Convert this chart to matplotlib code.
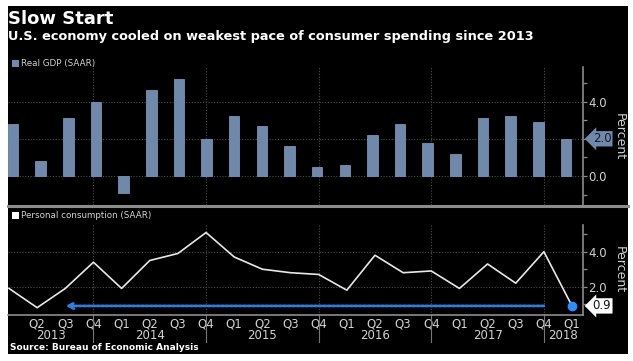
import numpy as np
import matplotlib
matplotlib.use('Agg')
import matplotlib.pyplot as plt
from matplotlib import transforms
from matplotlib.patches import Rectangle
from matplotlib.lines import Line2D

# ---------------- data ----------------
quarters = ['Q1', 'Q2', 'Q3', 'Q4'] * 5 + ['Q1']
years = ['2013', '2014', '2015', '2016', '2017', '2018']
gdp = [2.8, 0.8, 3.1, 4.0, -0.9, 4.6, 5.2, 2.0, 3.2, 2.7, 1.6,
       0.5, 0.6, 2.2, 2.8, 1.8, 1.2, 3.1, 3.2, 2.9, 2.0]
consumption = [1.9, 0.8, 1.9, 3.4, 1.9, 3.5, 3.9, 5.1, 3.7, 3.0, 2.8,
               2.7, 1.8, 3.8, 2.8, 2.9, 1.9, 3.3, 2.2, 4.0, 0.9]
gdp_label = 'Real GDP (SAAR)'
cons_label = 'Personal consumption (SAAR)'
arrow_from, arrow_to = 19, 2   # Q4 2017 back to Q3 2013

# ---------------- style ----------------
W, H = 633, 361
BAR = '#6f89ad'
TXT = '#d2d2d2'
GRID = '#4d4d4d'
SPINE = '#8c8c8c'
BLUE = '#2a7fe0'
TICKFONT = ['Liberation Sans Narrow', 'DejaVu Sans']

fig = plt.figure(figsize=(W / 100, H / 100), dpi=100, facecolor='white')
fig.patches.append(Rectangle((8 / W, 1 - 354 / H), 620 / W, 348 / H,
                             transform=fig.transFigure, fc='black', ec='none', zorder=-10))

ax1 = fig.add_axes([8 / W, 1 - 205 / H, 575 / W, 138 / H])
ax2 = fig.add_axes([8 / W, 1 - 315 / H, 575 / W, 90 / H])
for ax in (ax1, ax2):
    ax.set_facecolor('none')
    for s in ('left', 'top', 'bottom'):
        ax.spines[s].set_visible(False)
    ax.spines['right'].set_color(SPINE)
    ax.spines['right'].set_linewidth(1.2)
    ax.yaxis.tick_right()
    ax.tick_params(axis='y', which='both', colors=SPINE, labelcolor=TXT,
                   length=3, width=0.9, labelsize=8.5, pad=1)

x = np.arange(len(gdp))

# ---------------- top: GDP bars ----------------
ax1.bar(x, gdp, width=0.38, color=BAR, edgecolor='#88a0c0', linewidth=0.5, zorder=3)
ax1.set_xlim(-0.181, 20.615)
ax1.set_ylim(-1.56, 5.86)
ax1.set_xticks([])
ax1.set_yticks([0, 2, 4])
ax1.set_yticklabels(['0.0', '', '4.0'], family=TICKFONT)
ax1.set_yticks([-1, 1, 3, 5], minor=True)
for v in (0, 2, 4):
    ax1.axhline(v, color=GRID, ls=(0, (1, 1.5)), lw=0.8, zorder=1)

# ---------------- bottom: consumption line ----------------
ax2.set_xlim(-0.0355, 20.39)
ax2.set_ylim(0.38, 5.53)
ax2.plot(x, consumption, color='#e8e8e8', lw=1.2, zorder=4)
ax2.plot(x[-1], consumption[-1], 'o', color='#2b8fff', ms=6, zorder=5, clip_on=False)
ax2.annotate('', xy=(x[arrow_to], consumption[-1]), xytext=(x[arrow_from], consumption[-1]),
             arrowprops=dict(arrowstyle='->', color=BLUE, lw=2.0, linestyle=(0, (1, 0.6)),
                             shrinkA=0, shrinkB=0), zorder=4)
ax2.set_yticks([2, 4])
ax2.set_yticklabels(['2.0', '4.0'], family=TICKFONT)
ax2.set_yticks([1, 3, 5], minor=True)
for v in (2, 4):
    ax2.axhline(v, color=GRID, ls=(0, (1, 1.5)), lw=0.8, zorder=1)
ax2.spines['bottom'].set_visible(True)
ax2.spines['bottom'].set_color(SPINE)
ax2.spines['bottom'].set_linewidth(1.2)
ax2.set_xticks(x[1:])
ax2.set_xticklabels(quarters[1:], family=TICKFONT)
ax2.tick_params(axis='x', length=0, labelcolor=TXT, labelsize=8.5, pad=1.5)

# year boundaries, gridlines and labels
q4 = [i for i, q in enumerate(quarters) if q == 'Q4']
bt2 = transforms.blended_transform_factory(ax2.transData, ax2.transAxes)
bt1 = transforms.blended_transform_factory(ax2.transData, ax1.transAxes)
for g in q4:
    ax2.axvline(g, color=GRID, ls=(0, (1, 1.5)), lw=0.8, zorder=1)
    ax1.add_line(Line2D([g, g], [0, 1], transform=bt1, color=GRID,
                        ls=(0, (1, 1.5)), lw=0.8, zorder=1))
    ax2.add_line(Line2D([g, g], [0, -0.3], transform=bt2, color='#777777',
                        lw=0.8, clip_on=False))
bounds = [ax2.get_xlim()[0]] + q4 + [ax2.get_xlim()[1]]
for i, yr in enumerate(years):
    ax2.text((bounds[i] + bounds[i + 1]) / 2, -0.225, yr, transform=bt2,
             ha='center', va='center', fontsize=8.5, color=TXT, family=TICKFONT)

# last-value boxes
ax1.annotate(f'{gdp[-1]:.1f}', xy=(1, gdp[-1]), xycoords=('axes fraction', 'data'),
             xytext=(7, 0), textcoords='offset points', ha='left', va='center',
             fontsize=8.5, color='#1a1a1a', family=TICKFONT,
             bbox=dict(boxstyle='larrow,pad=0.1', fc=BAR, ec='none'))
ax2.annotate(f'{consumption[-1]:.1f}', xy=(1, consumption[-1]), xycoords=('axes fraction', 'data'),
             xytext=(7, 0), textcoords='offset points', ha='left', va='center',
             fontsize=8.5, color='#111111', family=TICKFONT,
             bbox=dict(boxstyle='larrow,pad=0.1', fc='white', ec='none'))

# axis titles
fig.text(619 / W, 1 - 137 / H, 'Percent', rotation=270, ha='center', va='center',
         fontsize=9, color=TXT)
fig.text(619 / W, 1 - 270 / H, 'Percent', rotation=270, ha='center', va='center',
         fontsize=9, color=TXT)

# separator between panels
fig.add_artist(Line2D([8 / W, 628 / W], [1 - 205.5 / H] * 2, color=SPINE, lw=2.2))

# legends
fig.patches.append(Rectangle((12 / W, 1 - 67 / H), 7 / W, 7 / H, transform=fig.transFigure,
                             fc=BAR, ec='none'))
fig.text(21 / W, 1 - 63.5 / H, gdp_label, fontsize=6.3, color=TXT, va='center')
fig.patches.append(Rectangle((12 / W, 1 - 219 / H), 7 / W, 7 / H, transform=fig.transFigure,
                             fc='white', ec='none'))
fig.text(21 / W, 1 - 215.5 / H, cons_label, fontsize=6.3, color=TXT, va='center')

# titles and source
fig.text(8 / W, 1 - 24.5 / H, 'Slow Start', fontsize=13, weight='bold', color='white',
         va='baseline')
fig.text(8 / W, 1 - 40 / H, 'U.S. economy cooled on weakest pace of consumer spending since 2013',
         fontsize=9.3, weight='bold', color='white', va='baseline')
fig.text(10 / W, 1 - 348 / H, 'Source: Bureau of Economic Analysis', fontsize=6.5,
         weight='bold', color='white', va='center')

fig.savefig('out.png', dpi=100, facecolor='white')
